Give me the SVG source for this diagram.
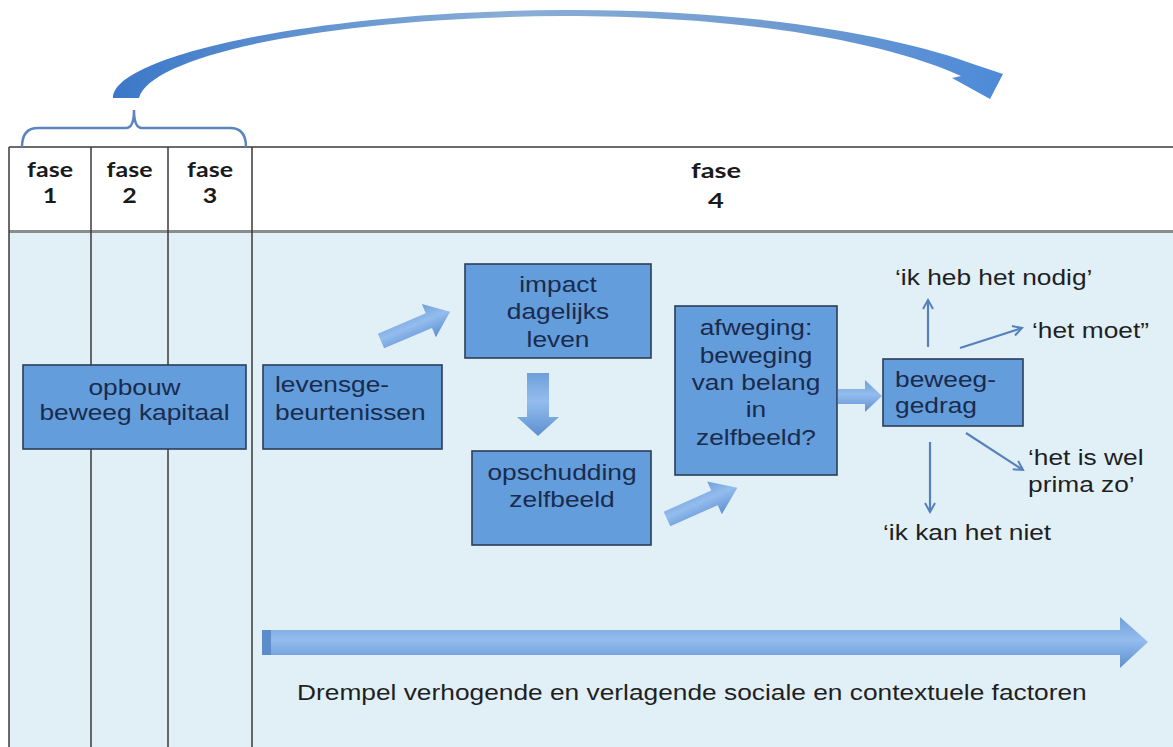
<svg xmlns="http://www.w3.org/2000/svg" width="1173" height="747" viewBox="0 0 1173 747">
<defs>
<linearGradient id="arcG" x1="0" y1="0" x2="1" y2="0">
<stop offset="0" stop-color="#3b78c9"/>
<stop offset="0.45" stop-color="#8aaed6"/>
<stop offset="0.75" stop-color="#6f9bd0"/>
<stop offset="1" stop-color="#4d8ad8"/>
</linearGradient>
<linearGradient id="blkG" x1="0" y1="0" x2="0" y2="1">
<stop offset="0" stop-color="#6f9fd9"/>
<stop offset="0.45" stop-color="#94bdee"/>
<stop offset="1" stop-color="#5d8fcf"/>
</linearGradient>
<marker id="v" viewBox="0 0 12 12" refX="10" refY="6" markerWidth="12" markerHeight="12" markerUnits="userSpaceOnUse" orient="auto">
<path d="M1,1 L10,6 L1,11" fill="none" stroke="#5582bd" stroke-width="2"/>
</marker>
<style>
.tbl{stroke:#3a3a3a;stroke-width:1.5;fill:none}
.box{fill:#639ddc;stroke:#2c3e58;stroke-width:1.6}
.bt{font-family:"Liberation Sans",Arial,sans-serif;font-size:22.5px;fill:#1a2b4c}
.ot{font-family:"Liberation Sans",Arial,sans-serif;font-size:22.5px;fill:#1f1f1f}
.ft{font-family:Lato,"Open Sans",sans-serif;font-weight:700;font-size:21px;fill:#1a1a1a;text-anchor:middle}
.thin{stroke:#5582bd;stroke-width:2.2;fill:none;marker-end:url(#v)}
.blk{fill:url(#blkG)}
</style>
</defs>
<rect x="0" y="0" width="1173" height="747" fill="#ffffff"/>
<g id="table">
<rect x="9" y="232" width="1164" height="515" fill="#e1eff7"/>
<line class="tbl" x1="9" y1="147" x2="1173" y2="147"/>
<line x1="9" y1="231.5" x2="1173" y2="231.5" stroke="#8c8c8c" stroke-width="3"/>
<line class="tbl" x1="9" y1="147" x2="9" y2="747"/>
<line class="tbl" x1="91" y1="147" x2="91" y2="747"/>
<line class="tbl" x1="168" y1="147" x2="168" y2="747"/>
<line class="tbl" x1="252" y1="147" x2="252" y2="747"/>
</g>
<g id="headers">
<text class="ft" transform="translate(50 0) scale(1.19 1)" x="0" y="177">fase<tspan x="0" y="203">1</tspan></text>
<text class="ft" transform="translate(129.5 0) scale(1.19 1)" x="0" y="177">fase<tspan x="0" y="203">2</tspan></text>
<text class="ft" transform="translate(210 0) scale(1.19 1)" x="0" y="177">fase<tspan x="0" y="203">3</tspan></text>
<text class="ft" transform="translate(716 0) scale(1.3 1)" x="0" y="178">fase<tspan x="0" y="208">4</tspan></text>
</g>
<g id="bracket">
<path d="M22,147 Q22,128 38,128 L126,128 Q134,128 134,110 Q134,128 142,128 L230,128 Q246,128 246,147" fill="none" stroke="#5a86bd" stroke-width="2.5"/>
</g>
<g id="arc-arrow">
<path d="M113,98 C113,55 320,11 563,10 C760,9 905,38 976,65 L1003,74 L990,99 L952,78 L961,76 C895,46 760,16 563,16 C330,17 150,55 139,98 Z" fill="url(#arcG)"/>
</g>
<g id="node-opbouw">
<rect class="box" x="23" y="365" width="223" height="84"/>
<text class="bt" text-anchor="middle" transform="translate(134.5 0) scale(1.17 1)" x="0" y="395">opbouw<tspan x="0" y="420">beweeg kapitaal</tspan></text>
</g>
<g id="node-levens">
<rect class="box" x="263" y="365" width="179" height="84"/>
<text class="bt" transform="translate(275 0) scale(1.17 1)" x="0" y="392">levensge-<tspan x="0" y="420">beurtenissen</tspan></text>
</g>
<g id="node-impact">
<rect class="box" x="465" y="264" width="186" height="94"/>
<text class="bt" text-anchor="middle" transform="translate(558 0) scale(1.17 1)" x="0" y="292">impact<tspan x="0" y="319">dagelijks</tspan><tspan x="0" y="347">leven</tspan></text>
</g>
<g id="node-opschudding">
<rect class="box" x="472" y="451" width="179" height="94"/>
<text class="bt" text-anchor="middle" transform="translate(562 0) scale(1.17 1)" x="0" y="480">opschudding<tspan x="0" y="507">zelfbeeld</tspan></text>
</g>
<g id="node-afweging">
<rect class="box" x="675" y="306" width="162" height="169"/>
<text class="bt" text-anchor="middle" transform="translate(756 0) scale(1.17 1)" x="0" y="335">afweging:<tspan x="0" y="363">beweging</tspan><tspan x="0" y="390">van belang</tspan><tspan x="0" y="417">in</tspan><tspan x="0" y="445">zelfbeeld?</tspan></text>
</g>
<g id="node-beweeggedrag">
<rect class="box" x="883" y="359" width="140" height="67"/>
<text class="bt" transform="translate(895 0) scale(1.17 1)" x="0" y="387">beweeg-<tspan x="0" y="413">gedrag</tspan></text>
</g>
<g id="connectors">
<polygon class="blk" transform="translate(381 341) rotate(-23)" points="0,-8 52,-8 52,-18 75,0 52,18 52,8 0,8"/>
<polygon class="blk" points="527,373 549,373 549,417 559,417 538,436 517,417 527,417"/>
<polygon class="blk" transform="translate(667 519) rotate(-24)" points="0,-8 52,-8 52,-18 77,0 52,18 52,8 0,8"/>
<polygon class="blk" points="838,389 865,389 865,380 882,396 865,412 865,404 838,404"/>
<polygon class="blk" points="262,630 1120,630 1120,617 1148,642 1120,668 1120,655 262,655"/>
<rect x="262" y="630" width="9" height="25" fill="#5d8ccb"/>
<line class="thin" x1="928" y1="347" x2="928" y2="300"/>
<line class="thin" x1="960" y1="348" x2="1022" y2="328"/>
<line class="thin" x1="930" y1="442" x2="930" y2="512"/>
<line class="thin" x1="966" y1="433" x2="1023" y2="470"/>
</g>
<g id="labels">
<text class="ot" transform="translate(895 0) scale(1.17 1)" x="0" y="285">‘ik heb het nodig’</text>
<text class="ot" transform="translate(1032 0) scale(1.17 1)" x="0" y="338">‘het moet”</text>
<text class="ot" transform="translate(1028 0) scale(1.17 1)" x="0" y="465">‘het is wel<tspan x="0" y="492">prima zo’</tspan></text>
<text class="ot" transform="translate(883 0) scale(1.17 1)" x="0" y="540">‘ik kan het niet</text>
<text class="ot" transform="translate(297 0) scale(1.17 1)" x="0" y="700">Drempel verhogende en verlagende sociale en contextuele factoren</text>
</g>
</svg>
